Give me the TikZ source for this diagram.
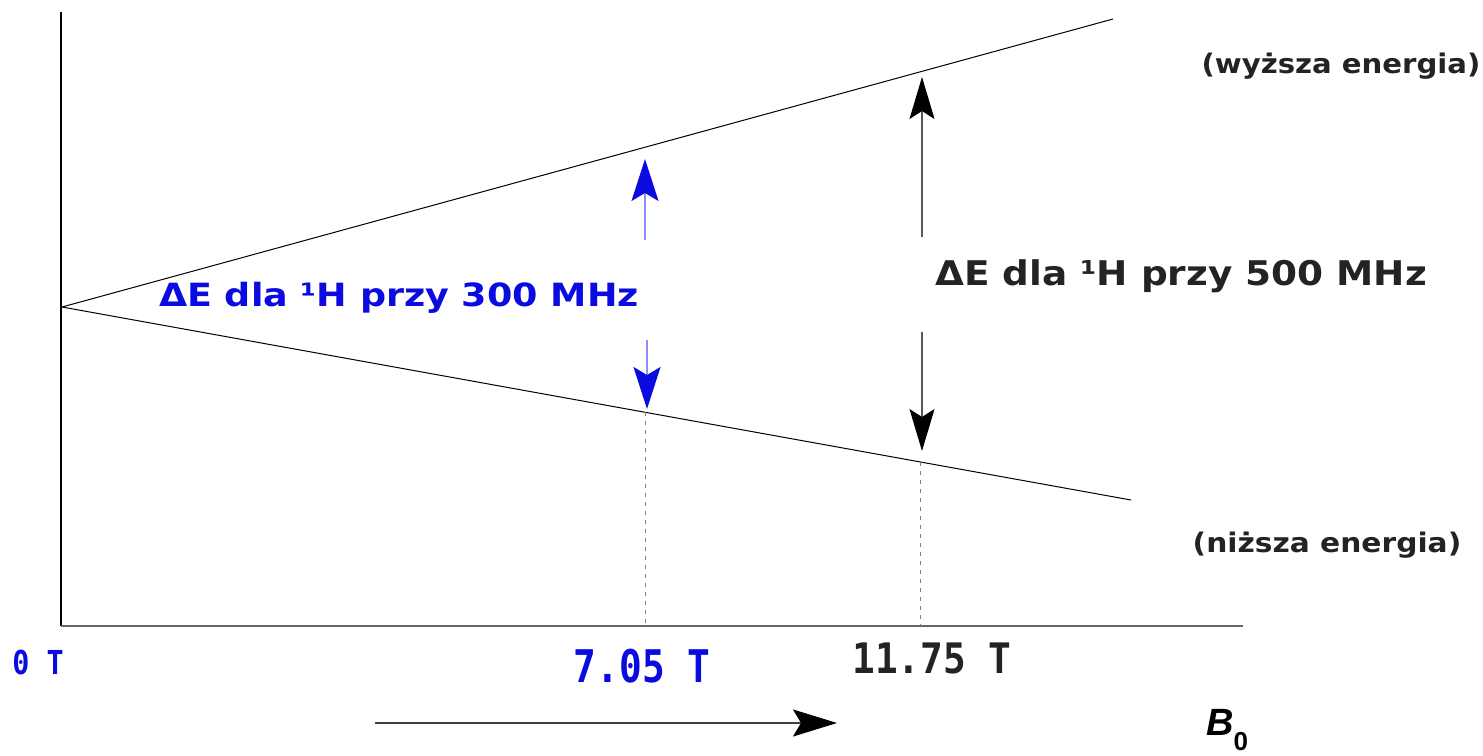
\documentclass[tikz,border=0pt]{standalone}
\usepackage{fontspec}
\setmainfont{DejaVu Sans}
\newfontfamily\lblfont{DejaVu Sans}
\newfontfamily\monofont{DejaVu Sans Mono}
\newfontfamily\bfont{Liberation Sans}
\usetikzlibrary{arrows.meta}
\definecolor{lblue}{RGB}{10,10,225}
\definecolor{dkgray}{RGB}{35,35,35}
\tikzset{
  level/.style={line width=1pt, black},
  axis/.style={line width=1.2pt, black},
  guide/.style={line width=0.8pt, gray, dash pattern=on 4pt off 5pt},
  bluearr/.style={line width=1.4pt, blue!45, -{Stealth[length=42pt,width=27pt,inset=8pt,color=lblue]}},
  blackarr/.style={line width=1.1pt, black!65, -{Stealth[length=42pt,width=25pt,inset=8pt,color=black]}},
  lbl/.style={inner sep=0pt, anchor=base},
}
\begin{document}
\begin{tikzpicture}[x=1pt,y=-1pt]
\useasboundingbox (0,0) rectangle (1483,755);
% axes
\coordinate (ytop) at (61,12);
\coordinate (origin) at (61,626);
\coordinate (xend) at (1243,626);
\draw[axis] (ytop) -- (origin);
\draw[line width=1.2pt, black!60] (origin) -- (xend);
% energy levels
\coordinate (apex) at (62,307);
\coordinate (up) at (1113,19);
\coordinate (low) at (1131,500);
\draw[level] (apex) -- (up);
\draw[level] (apex) -- (low);
% guides
\coordinate (g1a) at (645,412);
\coordinate (g1b) at (645,626);
\coordinate (g2a) at (920,462);
\coordinate (g2b) at (920,626);
\draw[guide] (g1a) -- (g1b);
\draw[guide] (g2a) -- (g2b);
% blue arrows
\coordinate (b1s) at (645,240);
\coordinate (b1e) at (645,159);
\coordinate (b2s) at (647,340);
\coordinate (b2e) at (647,409);
\draw[bluearr] (b1s) -- (b1e);
\draw[bluearr] (b2s) -- (b2e);
% black arrows
\coordinate (k1s) at (922,237);
\coordinate (k1e) at (922,77);
\coordinate (k2s) at (922,332);
\coordinate (k2e) at (922,451);
\draw[blackarr] (k1s) -- (k1e);
\draw[blackarr] (k2s) -- (k2e);
% bottom arrow
\coordinate (bas) at (375,723);
\coordinate (bae) at (837,723);
\draw[line width=1.4pt, black!75, -{Stealth[length=44pt,width=27pt,inset=8pt,color=black]}] (bas) -- (bae);
% labels
\node[lbl, text=lblue, font=\lblfont\bfseries\fontsize{32}{38}\selectfont] (l300) at (399,306) {\scalebox{1.14}[1]{ΔE dla ¹H przy 300 MHz}};
\node[lbl, text=dkgray, font=\lblfont\bfseries\fontsize{34}{40}\selectfont] (l500) at (1181,285) {\scalebox{1.10}[1]{ΔE dla ¹H przy 500 MHz}};
\node[lbl, text=dkgray, font=\lblfont\bfseries\fontsize{27}{32}\selectfont] (hi) at (1341,73) {\scalebox{1.08}[1]{(wyższa energia)}};
\node[lbl, text=dkgray, font=\lblfont\bfseries\fontsize{27}{32}\selectfont] (lo) at (1327,552) {\scalebox{1.10}[1]{(niższa energia)}};
\node[lbl, text=lblue, font=\monofont\bfseries\fontsize{33}{40}\selectfont] (t0) at (38,674) {\scalebox{0.86}[1]{0 T}};
\node[lbl, text=lblue, font=\monofont\bfseries\fontsize{45}{54}\selectfont] (t705) at (642,682) {\scalebox{0.84}[1]{7.05 T}};
\node[lbl, text=dkgray, font=\monofont\bfseries\fontsize{42}{50}\selectfont] (t1175) at (932,673) {\scalebox{0.90}[1]{11.75 T}};
\node[lbl, anchor=base west, text=black, font=\bfont\bfseries\itshape\fontsize{38}{44}\selectfont] (b0) at (1206,735) {B\raisebox{-15pt}{\fontsize{26}{30}\selectfont\upshape 0}};
\end{tikzpicture}
\end{document}
